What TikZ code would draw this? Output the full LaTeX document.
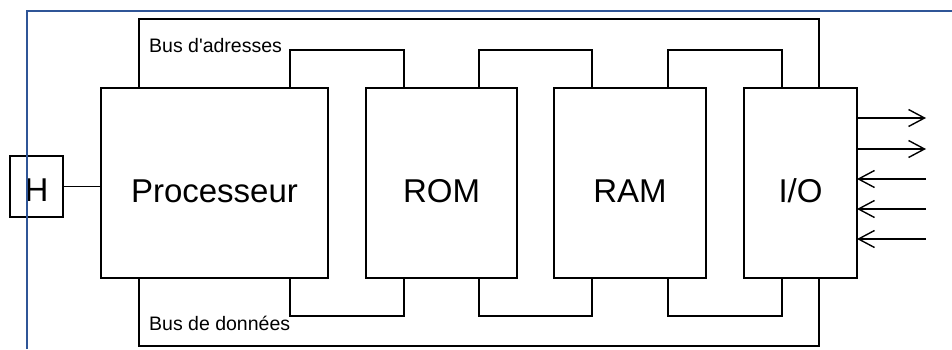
\documentclass[tikz,border=0pt]{standalone}
\usepackage{fontspec}
\setmainfont{Liberation Sans}
\usetikzlibrary{arrows.meta, positioning}
\definecolor{slideblue}{RGB}{47,85,151}

\begin{document}
\begin{tikzpicture}[
        x=1pt, y=1pt,
        unit/.style={rectangle, draw, line width=1.4pt, minimum height=190pt, outer sep=0pt, inner sep=0pt, text height=38pt, text depth=0pt, font=\fontsize{33}{40}\selectfont},
        bus/.style={line width=1.4pt},
        buslabel/.style={anchor=base west, inner sep=0pt, font=\fontsize{19.5}{23}\selectfont},
        sig/.style={-{Straight Barb[length=16pt, width=17pt, line width=1.4pt]}, line width=1.4pt}
    ]
        \useasboundingbox (0,0) rectangle (952,349);

        % Units
        \node[unit, minimum width=227pt] (proc) at (214.5,166) {Processeur};
        \node[unit, minimum width=151pt, right=38pt of proc] (rom) {ROM};
        \node[unit, minimum width=152pt, right=37pt of rom] (ram) {RAM};
        \node[unit, minimum width=113pt, right=38pt of ram] (io) {I/O};

        % Clock
        \node[unit, minimum width=53pt, minimum height=61pt, text height=29pt] (clk) at (36.5,162.5) {H};
        \draw[bus] (clk.east) -- (clk.east -| proc.west);

        % Buses
        \draw[bus] ([xshift=38pt]proc.north west) -- ++(0,69) -| ([xshift=-38pt]io.north east);
        \draw[bus] ([xshift=38pt]proc.south west) -- ++(0,-68) -| ([xshift=-38pt]io.south east);
        \foreach \a/\b in {proc/rom, rom/ram, ram/io} {
            \draw[bus] ([xshift=-38pt]\a.north east) -- ++(0,38) -| ([xshift=38pt]\b.north west);
            \draw[bus] ([xshift=-38pt]\a.south east) -- ++(0,-38) -| ([xshift=38pt]\b.south west);
        }
        \node[buslabel] (adr) at (149,297) {Bus d\textquotesingle adresses};
        \node[buslabel] (don) at (149,19) {Bus de données};

        % Signals
        \foreach \dy in {65,34}
            \draw[sig] ([yshift=\dy pt]io.east) -- ++(69,0);
        \foreach \dy in {4,-26,-56}
            \draw[sig] ([yshift=\dy pt, xshift=69pt]io.east) -- ([yshift=\dy pt]io.east);

        % Slide frame
        \draw[slideblue, line width=2pt] (27,0) -- (27,338) -- (952,338);
    \end{tikzpicture}
\end{document}
